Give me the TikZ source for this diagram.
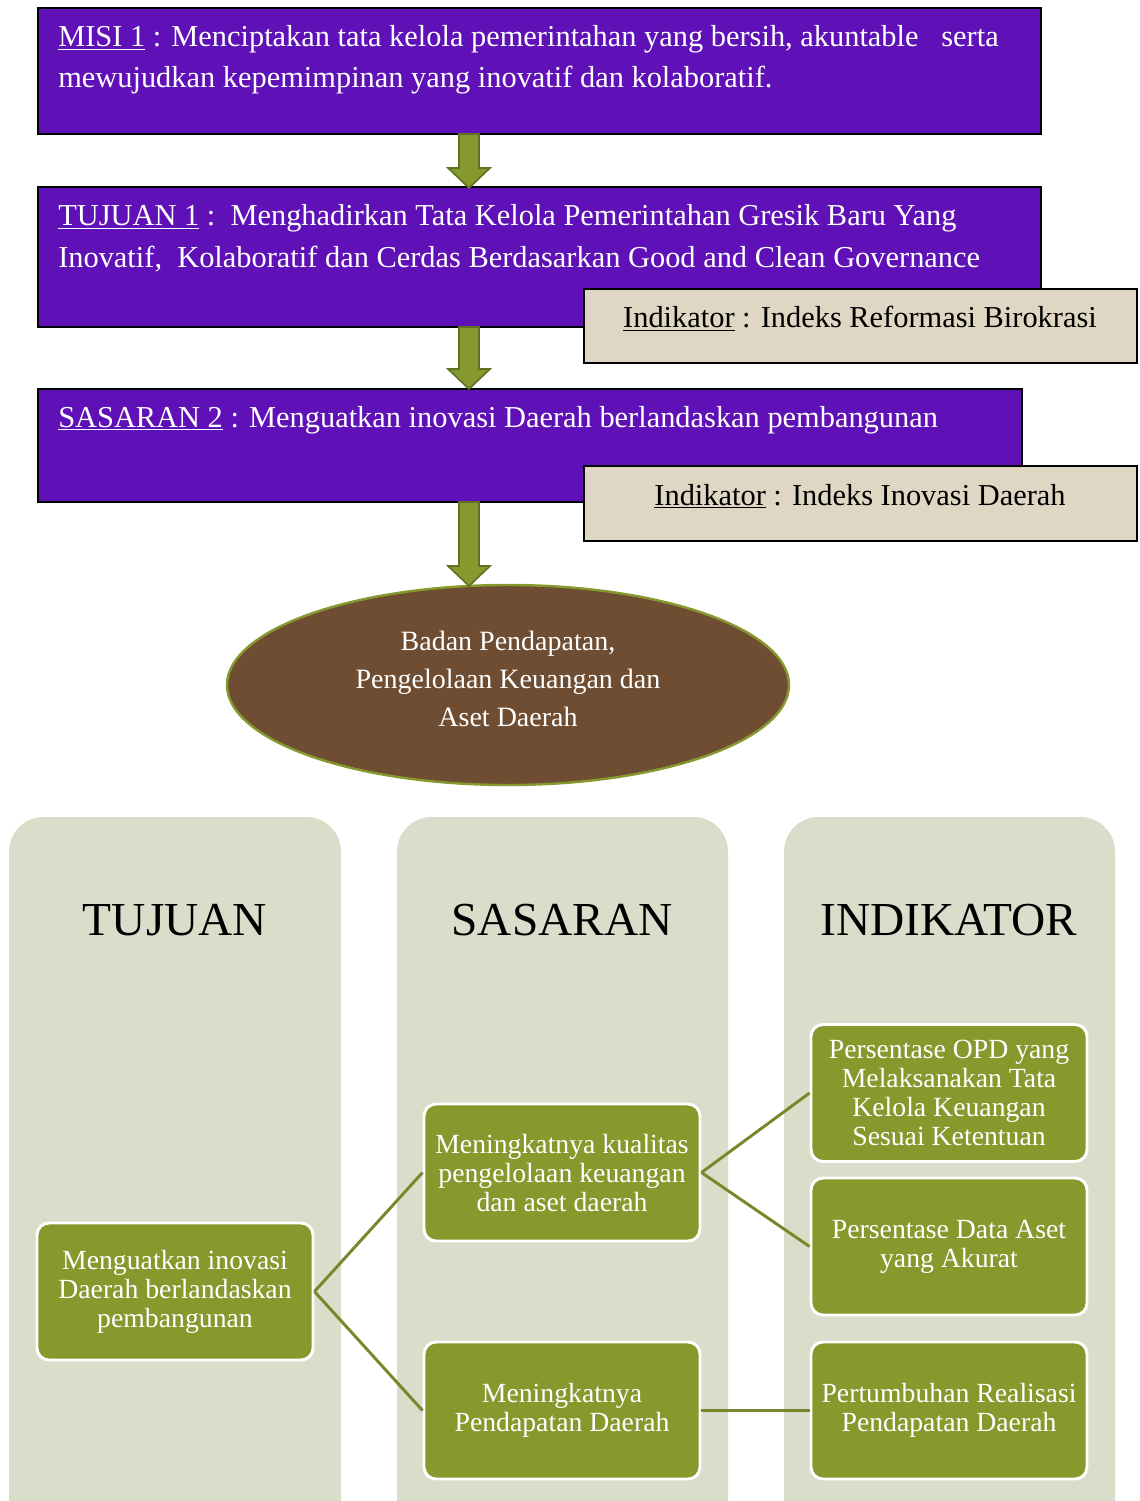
\documentclass[tikz,border=0pt]{standalone}
\usepackage{fontspec}
\setmainfont{Liberation Serif}
\usetikzlibrary{shapes.geometric,fit,calc}
\definecolor{purp}{HTML}{5F11B7}
\definecolor{olivefill}{HTML}{86992E}
\definecolor{olivedark}{HTML}{5E7222}
\definecolor{brownfill}{HTML}{6F4D32}
\definecolor{colfill}{HTML}{D9DDCA}
\definecolor{greenbox}{HTML}{85992D}
\definecolor{connc}{HTML}{76892A}
\definecolor{beige}{HTML}{DFD6C3}
\tikzset{
  purplebox/.style={draw=black,line width=1.5pt,fill=purp,inner sep=0pt},
  indbox/.style={draw=black,line width=1.2pt,fill=beige,inner sep=0pt},
  toptext/.style={anchor=base west,inner sep=0pt,text=white,font=\fontsize{22.8}{26}\selectfont},
  indtext/.style={anchor=base,inner sep=0pt,text=black,font=\fontsize{22.8}{26}\selectfont},
  barrow/.style={draw=olivedark,line width=1.2pt,fill=olivefill,line join=miter},
  colbox/.style={fill=colfill,draw=none,rounded corners=26pt,inner sep=0pt},
  headtext/.style={anchor=base,inner sep=0pt,font=\fontsize{35.5}{40}\selectfont},
  gbox/.style={draw=white,line width=2.2pt,fill=greenbox,rounded corners=9pt,
     minimum width=207pt,minimum height=102.75pt,text=white,align=center,
     inner sep=2pt,font=\fontsize{20.8}{21.75}\selectfont},
  ovtext/.style={anchor=base,inner sep=0pt,text=white,font=\fontsize{21}{24}\selectfont},
  conn/.style={draw=connc,line width=2.2pt}
}
\newcommand{\blockarrow}[2]{%
  \path[barrow] let \p1=(#1), \p2=(#2) in
   (\x1-7.5pt,\y1) -- (\x1-7.5pt,\y2+15pt) -- (\x1-15.75pt,\y2+15pt) -- (\x1,\y2)
   -- (\x1+15.75pt,\y2+15pt) -- (\x1+7.5pt,\y2+15pt) -- (\x1+7.5pt,\y1) -- cycle;}
\begin{document}
\begin{tikzpicture}[x=0.75pt,y=-0.75pt]
\useasboundingbox (0,0) rectangle (1139,1501);
\fill[white] (0,0) rectangle (1139,1501);
\clip (0,0) rectangle (1139,1501);

% top boxes
\node[purplebox,fit={(38,8)(1041,134)}] (misi) {};
\node[toptext] (misiA) at (58,47) {\underline{MISI 1} : Menciptakan tata kelola pemerintahan yang bersih, akuntable\ \ \ serta};
\node[toptext] (misiB) at (58,88) {mewujudkan kepemimpinan yang inovatif dan kolaboratif.};

\node[purplebox,fit={(38,187)(1041,327)}] (tujuan) {};
\node[toptext] (tujA) at (58,226) {\underline{TUJUAN 1} :\ \ Menghadirkan Tata Kelola Pemerintahan Gresik Baru Yang};
\node[toptext] (tujB) at (58,268) {Inovatif,\ \ Kolaboratif dan Cerdas Berdasarkan Good and Clean Governance};

\node[indbox,fit={(584,289)(1137,363)}] (ind1) {};
\node[indtext] (ind1t) at (860,328) {\underline{Indikator} : Indeks Reformasi Birokrasi};

\node[purplebox,fit={(38,389)(1022,502)}] (sasaran) {};
\node[toptext] (sasA) at (58,427) {\underline{SASARAN 2} : Menguatkan inovasi Daerah berlandaskan pembangunan};

\node[indbox,fit={(584,466)(1137,541)}] (ind2) {};
\node[indtext] (ind2t) at (860,505) {\underline{Indikator} : Indeks Inovasi Daerah};

% ellipse
\node[ellipse,draw=olivefill,line width=1.8pt,fill=brownfill,minimum width=421.5pt,minimum height=150pt,inner sep=0pt] (opd) at (508,685) {};
\node[ovtext] (opdA) at (508,650) {Badan Pendapatan,};
\node[ovtext] (opdB) at (508,688) {Pengelolaan Keuangan dan};
\node[ovtext] (opdC) at (508,726) {Aset Daerah};

% arrows
\coordinate (a1s) at (469,134); \coordinate (a1e) at (469,188);
\coordinate (a2s) at (469,327); \coordinate (a2e) at (469,389);
\coordinate (a3s) at (469,502); \coordinate (a3e) at (469,586);
\blockarrow{a1s}{a1e}
\blockarrow{a2s}{a2e}
\blockarrow{a3s}{a3e}

% columns
\node[colbox,fit={(9,817)(341,1560)}] (colT) {};
\node[colbox,fit={(397,817)(728,1560)}] (colS) {};
\node[colbox,fit={(784,817)(1115,1560)}] (colI) {};
\node[headtext] (hT) at (175,935) {TUJUAN};
\node[headtext] (hS) at (562,935) {SASARAN};
\node[headtext] (hI) at (949,935) {INDIKATOR};

% green boxes
\node[gbox] (t1) at (175,1291.5) {Menguatkan inovasi\\Daerah berlandaskan\\pembangunan};
\node[gbox] (s1) at (562,1172.5) {Meningkatnya kualitas\\pengelolaan keuangan\\dan aset daerah};
\node[gbox] (s2) at (562,1410.5) {Meningkatnya\\Pendapatan Daerah};
\node[gbox] (i1) at (949,1093) {Persentase OPD yang\\Melaksanakan Tata\\Kelola Keuangan\\Sesuai Ketentuan};
\node[gbox] (i2) at (949,1246.5) {Persentase Data Aset\\yang Akurat};
\node[gbox] (i3) at (949,1410.5) {Pertumbuhan Realisasi\\Pendapatan Daerah};

% connectors
\draw[conn] (t1.east) -- (s1.west);
\draw[conn] (t1.east) -- (s2.west);
\draw[conn] (s1.east) -- (i1.west);
\draw[conn] (s1.east) -- (i2.west);
\draw[conn] (s2.east) -- (i3.west);
\end{tikzpicture}
\end{document}
